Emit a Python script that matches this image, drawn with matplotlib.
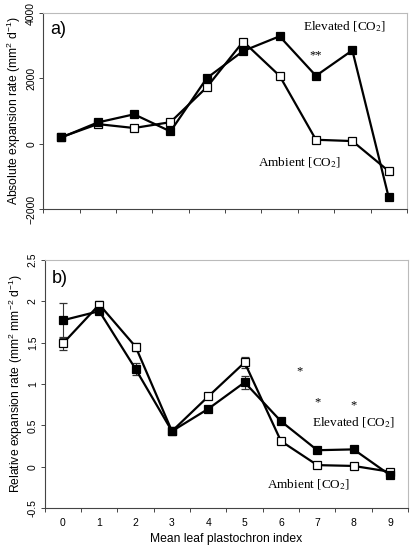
import matplotlib
matplotlib.use('Agg')
import matplotlib.pyplot as plt
import numpy as np

# mean leaf plastochron index
lpi = [0, 1, 2, 3, 4, 5, 6, 7, 8, 9]

# a) absolute expansion rate (mm2 d-1)
abs_elev = [190, 650, 900, 375, 2010, 2840, 3290, 2080, 2860, -1645]
abs_amb = [200, 600, 480, 660, 1730, 3130, 2080, 120, 80, -840]

# b) relative expansion rate (mm2 mm-2 d-1)
rel_elev = [1.77, 1.88, 1.18, 0.43, 0.70, 1.02, 0.55, 0.20, 0.21, -0.10]
rel_amb = [1.49, 1.96, 1.45, 0.43, 0.85, 1.26, 0.31, 0.02, 0.01, -0.06]
rel_elev_err = [0.21, 0.04, 0.07, 0.02, 0.02, 0.08, 0.02, 0.02, 0.02, 0.02]
rel_amb_err = [0.08, 0.04, 0.05, 0.02, 0.02, 0.07, 0.02, 0.02, 0.02, 0.02]

sans = 'Liberation Sans'
serif = 'Liberation Serif'
plt.rcParams['mathtext.fontset'] = 'custom'
plt.rcParams['mathtext.rm'] = sans
plt.rcParams['mathtext.it'] = sans + ':italic'

fig = plt.figure(figsize=(4.11, 5.47), dpi=100)
ax1 = fig.add_axes([0.105, 0.618, 0.885, 0.358])
ax2 = fig.add_axes([0.109, 0.071, 0.884, 0.454])

def style(ax):
    for s in ['top', 'right']:
        ax.spines[s].set_color('#bbbbbb')
        ax.spines[s].set_linewidth(0.8)
    for s in ['left', 'bottom']:
        ax.spines[s].set_color('#444444')
        ax.spines[s].set_linewidth(0.8)
    ax.set_xlim(-0.5, 9.5)
    ax.set_xticks(np.arange(-0.5, 10, 1))
    ax.tick_params(axis='x', which='major', length=3, width=0.7, color='#444444', labelbottom=False)
    ax.tick_params(axis='y', length=3, width=0.7, color='#444444', labelsize=7.5, pad=2)
    for t in ax.get_yticklabels():
        t.set_rotation(90)
        t.set_va('center')
        t.set_fontfamily(sans)

mk = dict(marker='s', markersize=5.5, color='black', linewidth=1.6, markeredgewidth=0.9)

def note(ax, x, y, s, size=9.5):
    ax.text(x, y, s, family=serif, fontsize=size, ha='center', va='center',
            math_fontfamily='stix')

# panel a
ax1.plot(lpi, abs_amb, markerfacecolor='white', **mk)
ax1.plot(lpi, abs_elev, markerfacecolor='black', **mk)
ax1.set_ylim(-2000, 4000)
ax1.set_yticks([-2000, 0, 2000, 4000])
style(ax1)
ax1.set_ylabel('Absolute expansion rate (mm$^2$ d$^{-1}$)', family=sans, fontsize=8.7, labelpad=2)
ax1.text(0.02, 0.96, 'a)', transform=ax1.transAxes, family=sans, fontsize=13, va='top')
note(ax1, 7.8, 3570, 'Elevated [CO$_2$]')
note(ax1, 6.55, -590, 'Ambient [CO$_2$]')
note(ax1, 7.0, 2700, '**', 9)

# panel b
ax2.errorbar(lpi, rel_amb, yerr=rel_amb_err, markerfacecolor='white', capsize=3,
             elinewidth=0.8, capthick=0.8, ecolor='#333333', **mk)
ax2.errorbar(lpi, rel_elev, yerr=rel_elev_err, markerfacecolor='black', capsize=3,
             elinewidth=0.8, capthick=0.8, ecolor='#333333', **mk)
ax2.set_ylim(-0.5, 2.5)
ax2.set_yticks([-0.5, 0, 0.5, 1, 1.5, 2, 2.5])
ax2.set_yticklabels(['-0.5', '0', '0.5', '1', '1.5', '2', '2.5'])
style(ax2)
for i in lpi:
    ax2.text(i, -0.62, str(i), family=sans, fontsize=7.5, ha='center', va='top')
ax2.set_ylabel('Relative expansion rate (mm$^2$ mm$^{-2}$ d$^{-1}$)', family=sans, fontsize=8.7, labelpad=2)
ax2.set_xlabel('Mean leaf plastochron index', family=sans, fontsize=8.7, labelpad=15)
ax2.text(0.02, 0.96, 'b)', transform=ax2.transAxes, family=sans, fontsize=13, va='top')
note(ax2, 8.0, 0.53, 'Elevated [CO$_2$]')
note(ax2, 6.75, -0.22, 'Ambient [CO$_2$]')
for sx, sy in [(6.5, 1.15), (7.0, 0.78), (8.0, 0.74)]:
    note(ax2, sx, sy, '*', 9)

fig.savefig('out.png', dpi=100)
